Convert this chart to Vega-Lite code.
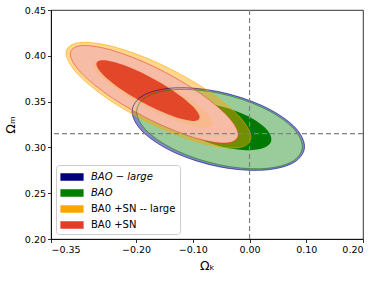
{
  "$schema": "https://vega.github.io/schema/vega-lite/v6.json",
  "width": 312,
  "height": 229,
  "autosize": {"type": "none"},
  "padding": {"left": 51, "top": 10, "right": 18, "bottom": 42},
  "background": "white",
  "config": {
    "view": {"stroke": "black", "strokeWidth": 0.8},
    "font": "DejaVu Sans",
    "axis": {
      "grid": false,
      "domainColor": "black",
      "domainWidth": 0.8,
      "tickColor": "black",
      "tickWidth": 0.8,
      "tickSize": 3.5,
      "labelColor": "black",
      "labelFont": "DejaVu Sans",
      "labelFontSize": 9.5,
      "titleFont": "DejaVu Sans",
      "titleFontSize": 12.5,
      "titleFontWeight": "normal",
      "titleColor": "black"
    },
    "legend": {
      "orient": "bottom-left",
      "offset": 5,
      "fillColor": "white",
      "strokeColor": "#cccccc",
      "cornerRadius": 3,
      "padding": 4,
      "symbolType": "M-0.95,-0.47H1.95V0.47H-0.95Z",
      "symbolStrokeWidth": 0,
      "symbolSize": 256,
      "symbolOpacity": 1,
      "labelFont": "DejaVu Sans",
      "labelFontSize": 10,
      "labelColor": "black",
      "labelLimit": 200,
      "labelOffset": 15,
      "rowPadding": 3
    }
  },
  "layer": [
    {
      "data": {
        "values": [
          {"e": "bl1", "s": "BAO − large", "i": 0, "x": 0.097, "y": 0.301},
          {"e": "bl1", "s": "BAO − large", "i": 1, "x": 0.0766, "y": 0.3241},
          {"e": "bl1", "s": "BAO − large", "i": 2, "x": 0.021, "y": 0.346},
          {"e": "bl1", "s": "BAO − large", "i": 3, "x": -0.055, "y": 0.361},
          {"e": "bl1", "s": "BAO − large", "i": 4, "x": -0.131, "y": 0.365},
          {"e": "bl1", "s": "BAO − large", "i": 5, "x": -0.1866, "y": 0.357},
          {"e": "bl1", "s": "BAO − large", "i": 6, "x": -0.207, "y": 0.339},
          {"e": "bl1", "s": "BAO − large", "i": 7, "x": -0.1866, "y": 0.316},
          {"e": "bl1", "s": "BAO − large", "i": 8, "x": -0.131, "y": 0.294},
          {"e": "bl1", "s": "BAO − large", "i": 9, "x": -0.055, "y": 0.279},
          {"e": "bl1", "s": "BAO − large", "i": 10, "x": 0.021, "y": 0.275},
          {"e": "bl1", "s": "BAO − large", "i": 11, "x": 0.0766, "y": 0.283},

          {"e": "gr1", "s": "BAO", "i": 0, "x": 0.093, "y": 0.301},
          {"e": "gr1", "s": "BAO", "i": 1, "x": 0.0734, "y": 0.3231},
          {"e": "gr1", "s": "BAO", "i": 2, "x": 0.020, "y": 0.3443},
          {"e": "gr1", "s": "BAO", "i": 3, "x": -0.053, "y": 0.359},
          {"e": "gr1", "s": "BAO", "i": 4, "x": -0.126, "y": 0.3633},
          {"e": "gr1", "s": "BAO", "i": 5, "x": -0.1794, "y": 0.356},
          {"e": "gr1", "s": "BAO", "i": 6, "x": -0.199, "y": 0.339},
          {"e": "gr1", "s": "BAO", "i": 7, "x": -0.1794, "y": 0.317},
          {"e": "gr1", "s": "BAO", "i": 8, "x": -0.126, "y": 0.2957},
          {"e": "gr1", "s": "BAO", "i": 9, "x": -0.053, "y": 0.281},
          {"e": "gr1", "s": "BAO", "i": 10, "x": 0.020, "y": 0.2767},
          {"e": "gr1", "s": "BAO", "i": 11, "x": 0.0734, "y": 0.284},

          {"e": "gr2", "s": "BAO", "i": 0, "x": 0.0385, "y": 0.309},
          {"e": "gr2", "s": "BAO", "i": 1, "x": 0.0265, "y": 0.3219},
          {"e": "gr2", "s": "BAO", "i": 2, "x": -0.0063, "y": 0.3351},
          {"e": "gr2", "s": "BAO", "i": 3, "x": -0.051, "y": 0.345},
          {"e": "gr2", "s": "BAO", "i": 4, "x": -0.0958, "y": 0.3491},
          {"e": "gr2", "s": "BAO", "i": 5, "x": -0.1285, "y": 0.3461},
          {"e": "gr2", "s": "BAO", "i": 6, "x": -0.1405, "y": 0.337},
          {"e": "gr2", "s": "BAO", "i": 7, "x": -0.1285, "y": 0.3241},
          {"e": "gr2", "s": "BAO", "i": 8, "x": -0.0958, "y": 0.311},
          {"e": "gr2", "s": "BAO", "i": 9, "x": -0.051, "y": 0.301},
          {"e": "gr2", "s": "BAO", "i": 10, "x": -0.0063, "y": 0.297},
          {"e": "gr2", "s": "BAO", "i": 11, "x": 0.0265, "y": 0.2999},

          {"e": "or1", "s": "BA0 +SN -- large", "i": 0, "x": 0.0024, "y": 0.311},
          {"e": "or1", "s": "BA0 +SN -- large", "i": 1, "x": -0.0194, "y": 0.3347},
          {"e": "or1", "s": "BA0 +SN -- large", "i": 2, "x": -0.0791, "y": 0.3643},
          {"e": "or1", "s": "BA0 +SN -- large", "i": 3, "x": -0.1606, "y": 0.392},
          {"e": "or1", "s": "BA0 +SN -- large", "i": 4, "x": -0.2421, "y": 0.4103},
          {"e": "or1", "s": "BA0 +SN -- large", "i": 5, "x": -0.3018, "y": 0.4143},
          {"e": "or1", "s": "BA0 +SN -- large", "i": 6, "x": -0.3236, "y": 0.403},
          {"e": "or1", "s": "BA0 +SN -- large", "i": 7, "x": -0.3018, "y": 0.3793},
          {"e": "or1", "s": "BA0 +SN -- large", "i": 8, "x": -0.2421, "y": 0.3497},
          {"e": "or1", "s": "BA0 +SN -- large", "i": 9, "x": -0.1606, "y": 0.322},
          {"e": "or1", "s": "BA0 +SN -- large", "i": 10, "x": -0.0791, "y": 0.3037},
          {"e": "or1", "s": "BA0 +SN -- large", "i": 11, "x": -0.0194, "y": 0.2997},

          {"e": "rd1", "s": "BA0 +SN", "i": 0, "x": -0.020, "y": 0.314},
          {"e": "rd1", "s": "BA0 +SN", "i": 1, "x": -0.0398, "y": 0.3349},
          {"e": "rd1", "s": "BA0 +SN", "i": 2, "x": -0.094, "y": 0.362},
          {"e": "rd1", "s": "BA0 +SN", "i": 3, "x": -0.168, "y": 0.388},
          {"e": "rd1", "s": "BA0 +SN", "i": 4, "x": -0.242, "y": 0.406},
          {"e": "rd1", "s": "BA0 +SN", "i": 5, "x": -0.2962, "y": 0.4111},
          {"e": "rd1", "s": "BA0 +SN", "i": 6, "x": -0.316, "y": 0.402},
          {"e": "rd1", "s": "BA0 +SN", "i": 7, "x": -0.2962, "y": 0.3811},
          {"e": "rd1", "s": "BA0 +SN", "i": 8, "x": -0.242, "y": 0.354},
          {"e": "rd1", "s": "BA0 +SN", "i": 9, "x": -0.168, "y": 0.328},
          {"e": "rd1", "s": "BA0 +SN", "i": 10, "x": -0.094, "y": 0.310},
          {"e": "rd1", "s": "BA0 +SN", "i": 11, "x": -0.0398, "y": 0.3049},

          {"e": "or2", "s": "BA0 +SN -- large", "i": 0, "x": -0.065, "y": 0.326},
          {"e": "or2", "s": "BA0 +SN -- large", "i": 1, "x": -0.0791, "y": 0.3393},
          {"e": "or2", "s": "BA0 +SN -- large", "i": 2, "x": -0.1175, "y": 0.3576},
          {"e": "or2", "s": "BA0 +SN -- large", "i": 3, "x": -0.170, "y": 0.376},
          {"e": "or2", "s": "BA0 +SN -- large", "i": 4, "x": -0.2225, "y": 0.3896},
          {"e": "or2", "s": "BA0 +SN -- large", "i": 5, "x": -0.2609, "y": 0.3947},
          {"e": "or2", "s": "BA0 +SN -- large", "i": 6, "x": -0.275, "y": 0.390},
          {"e": "or2", "s": "BA0 +SN -- large", "i": 7, "x": -0.2609, "y": 0.3767},
          {"e": "or2", "s": "BA0 +SN -- large", "i": 8, "x": -0.2225, "y": 0.3584},
          {"e": "or2", "s": "BA0 +SN -- large", "i": 9, "x": -0.170, "y": 0.340},
          {"e": "or2", "s": "BA0 +SN -- large", "i": 10, "x": -0.1175, "y": 0.3264},
          {"e": "or2", "s": "BA0 +SN -- large", "i": 11, "x": -0.0791, "y": 0.3213},

          {"e": "rd2", "s": "BA0 +SN", "i": 0, "x": -0.088, "y": 0.333},
          {"e": "rd2", "s": "BA0 +SN", "i": 1, "x": -0.1002, "y": 0.3449},
          {"e": "rd2", "s": "BA0 +SN", "i": 2, "x": -0.1335, "y": 0.3614},
          {"e": "rd2", "s": "BA0 +SN", "i": 3, "x": -0.179, "y": 0.378},
          {"e": "rd2", "s": "BA0 +SN", "i": 4, "x": -0.2245, "y": 0.3904},
          {"e": "rd2", "s": "BA0 +SN", "i": 5, "x": -0.2578, "y": 0.3951},
          {"e": "rd2", "s": "BA0 +SN", "i": 6, "x": -0.270, "y": 0.391},
          {"e": "rd2", "s": "BA0 +SN", "i": 7, "x": -0.2578, "y": 0.3791},
          {"e": "rd2", "s": "BA0 +SN", "i": 8, "x": -0.2245, "y": 0.3626},
          {"e": "rd2", "s": "BA0 +SN", "i": 9, "x": -0.179, "y": 0.346},
          {"e": "rd2", "s": "BA0 +SN", "i": 10, "x": -0.1335, "y": 0.3336},
          {"e": "rd2", "s": "BA0 +SN", "i": 11, "x": -0.1002, "y": 0.3289}
        ]
      },
      "encoding": {
        "x": {
          "field": "x", "type": "quantitative",
          "scale": {"domain": [-0.35, 0.2], "nice": false, "zero": false},
          "axis": {"title": "Ωₖ", "values": [-0.35, -0.2, -0.1, 0, 0.1, 0.2], "format": ".2f", "titlePadding": 5}
        },
        "y": {
          "field": "y", "type": "quantitative",
          "scale": {"domain": [0.2, 0.45], "nice": false, "zero": false},
          "axis": {"title": "Ωₘ", "values": [0.2, 0.25, 0.3, 0.35, 0.4, 0.45], "format": ".2f", "titlePadding": 7}
        },
        "order": {"field": "i", "type": "quantitative"}
      },
      "layer": [
        {
          "transform": [{"filter": "datum.e == 'bl1'"}],
          "mark": {"type": "line", "interpolate": "cardinal-closed", "fill": "#8585C8", "strokeWidth": 0}
        },
        {
          "transform": [{"filter": "datum.e == 'gr1'"}],
          "mark": {"type": "line", "interpolate": "cardinal-closed", "fill": "#9ACB9A", "strokeWidth": 0}
        },
        {
          "transform": [{"filter": "datum.e == 'gr2'"}],
          "mark": {"type": "line", "interpolate": "cardinal-closed", "fill": "#007A00", "strokeWidth": 0}
        },
        {
          "transform": [{"filter": "datum.e == 'or1'"}],
          "mark": {"type": "line", "interpolate": "cardinal-closed", "fill": "#FFA500", "fillOpacity": 0.45, "strokeWidth": 0}
        },
        {
          "transform": [{"filter": "datum.e == 'rd1'"}],
          "mark": {"type": "line", "interpolate": "cardinal-closed", "fill": "#F7BCA6", "strokeWidth": 0}
        },
        {
          "transform": [{"filter": "datum.e == 'or2'"}],
          "mark": {"type": "line", "interpolate": "cardinal-closed", "fill": "#FFA500", "fillOpacity": 0.15, "strokeWidth": 0}
        },
        {
          "transform": [{"filter": "datum.e == 'rd2'"}],
          "mark": {"type": "line", "interpolate": "cardinal-closed", "fill": "#E2472A", "strokeWidth": 0}
        },
        {
          "transform": [{"filter": "datum.e == 'bl1' || datum.e == 'gr1' || datum.e == 'or1' || datum.e == 'rd1'"}],
          "mark": {"type": "line", "interpolate": "cardinal-closed", "strokeWidth": 1, "strokeOpacity": 0.55},
          "encoding": {
            "color": {
              "field": "s", "type": "nominal",
              "scale": {"domain": ["BAO − large", "BAO", "BA0 +SN -- large", "BA0 +SN"], "range": ["#000080", "#008000", "#FFA500", "#E23D28"]},
              "legend": {
                "title": null,
                "encode": {
                  "symbols": {
                    "update": {
                      "fill": {"scale": "color", "field": "value"},
                      "strokeWidth": {"value": 0},
                      "opacity": {"value": 1}
                    }
                  },
                  "labels": {
                    "update": {
                      "fontStyle": {"signal": "datum.label == 'BAO' || datum.label == 'BAO − large' ? 'italic' : 'normal'"}
                    }
                  }
                }
              }
            },
            "detail": {"field": "e"}
          }
        }
      ]
    },
    {
      "data": {"values": [{"v": 0}]},
      "mark": {"type": "rule", "color": "#808080", "strokeDash": [5, 3], "strokeWidth": 1.2},
      "encoding": {"x": {"field": "v", "type": "quantitative", "scale": {"domain": [-0.35, 0.2], "nice": false, "zero": false}}}
    },
    {
      "data": {"values": [{"v": 0.315}]},
      "mark": {"type": "rule", "color": "#808080", "strokeDash": [5, 3], "strokeWidth": 1.2},
      "encoding": {"y": {"field": "v", "type": "quantitative", "scale": {"domain": [0.2, 0.45], "nice": false, "zero": false}}}
    }
  ]
}
